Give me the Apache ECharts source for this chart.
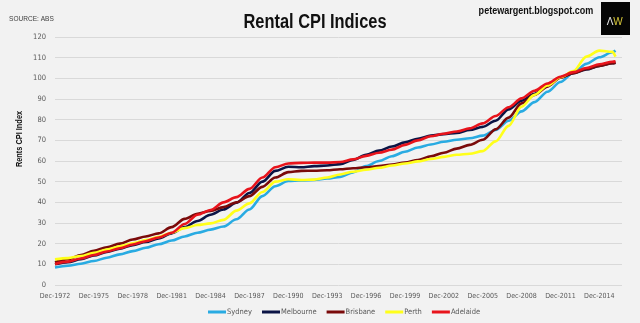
<!DOCTYPE html>
<html>
<head>
<meta charset="utf-8">
<script src="https://cdn.jsdelivr.net/npm/echarts@6/dist/echarts.min.js"></script>
<style>
html,body{margin:0;padding:0;background:#f2f2f2;}
#chart{width:640px;height:323px;}
</style>
</head>
<body>
<div id="chart"></div>
<script>
const periods = ["Dec-1972","Dec-1973","Dec-1974","Dec-1975","Dec-1976","Dec-1977","Dec-1978","Dec-1979","Dec-1980","Dec-1981",
  "Dec-1982","Dec-1983","Dec-1984","Dec-1985","Dec-1986","Dec-1987","Dec-1988","Dec-1989","Dec-1990","Dec-1991",
  "Dec-1992","Dec-1993","Dec-1994","Dec-1995","Dec-1996","Dec-1997","Dec-1998","Dec-1999","Dec-2000","Dec-2001",
  "Dec-2002","Dec-2003","Dec-2004","Dec-2005","Dec-2006","Dec-2007","Dec-2008","Dec-2009","Dec-2010","Dec-2011",
  "Dec-2012","Dec-2013","Dec-2014","Dec-2015","Mar-2016"];

const sydney = [8.5,9.3,10.3,11.6,13.2,14.8,16.4,18.0,19.7,21.5,
  23.5,25.3,26.8,28.3,31.8,36.5,43.0,47.8,50.3,50.6,
  50.8,51.5,52.3,54.5,57.5,60.0,62.3,64.5,66.5,68.0,
  69.3,70.3,71.0,72.3,75.0,79.5,84.0,88.5,93.5,98.2,
  102.7,107.0,110.2,112.6,113.4];
const melbourne = [10.0,11.0,12.5,14.3,16.0,17.6,19.3,20.8,22.5,25.0,
  28.0,31.0,34.0,36.5,39.8,44.5,50.0,55.2,57.2,57.0,
  57.5,57.8,58.5,60.5,63.0,65.0,67.0,69.0,70.8,72.3,
  73.0,73.6,75.0,76.5,79.5,85.0,89.2,92.5,96.5,100.5,
  102.5,104.3,106.0,107.3,107.6];
const brisbane = [11.0,12.5,14.5,16.5,18.3,20.0,22.0,23.5,25.0,28.0,
  32.0,34.5,35.8,37.7,40.0,43.0,47.5,52.0,54.6,55.2,
  55.3,55.5,56.0,56.5,57.0,57.5,58.3,59.3,60.5,62.3,
  64.0,66.0,67.8,70.3,75.3,81.0,87.9,92.0,96.0,100.3,
  102.5,104.5,106.0,107.3,107.6];
const perth = [12.4,13.0,14.0,15.6,17.2,18.7,20.2,21.7,23.3,25.3,
  27.5,29.0,29.8,31.5,36.0,39.5,45.0,50.0,51.2,50.8,
  51.0,52.0,53.5,54.8,55.8,56.7,57.8,58.8,59.8,61.0,
  62.0,63.0,63.5,64.8,69.5,77.0,86.3,92.0,96.5,100.5,
  103.5,110.5,113.4,112.8,110.5];
const adelaide = [10.2,11.3,12.8,14.5,16.2,17.8,19.6,21.2,23.0,25.3,
  29.5,34.0,36.3,40.0,42.5,46.5,52.0,57.0,58.8,59.1,
  59.2,59.2,59.5,60.8,62.5,64.0,65.5,67.8,70.0,72.0,
  73.2,74.3,75.8,78.2,81.8,86.0,90.3,94.0,97.5,100.8,
  103.0,105.0,106.8,108.0,108.2];

const seriesNames = ["Sydney","Melbourne","Brisbane","Perth","Adelaide"];
const seriesColors = ["#29abe2","#0b1445","#7a0a0a","#ffff1a","#e8141c"];
const xTickLabels = ["Dec-1972","Dec-1975","Dec-1978","Dec-1981","Dec-1984","Dec-1987","Dec-1990","Dec-1993",
  "Dec-1996","Dec-1999","Dec-2002","Dec-2005","Dec-2008","Dec-2011","Dec-2014"];
const yTicks = [0,10,20,30,40,50,60,70,80,90,100,110,120];

const monthIdx = {Mar:3,Jun:6,Sep:9,Dec:12};
function quarterIndex(p){
  const [m,y] = p.split("-");
  return (parseInt(y,10)-1972)*4 + (monthIdx[m]-12)/3;
}
const xs = periods.map(quarterIndex);
const allValues = [sydney,melbourne,brisbane,perth,adelaide];

const COND = "'DejaVu Sans Condensed','Liberation Sans Narrow',sans-serif";
const ARIAL = "'Liberation Sans',Arial,sans-serif";
const NARROW = 0.82;

const chart = echarts.init(document.getElementById('chart'), null, {renderer:'canvas'});
chart.setOption({
  backgroundColor:'#f2f2f2',
  animation:false,
  grid:{left:55,right:18,top:37,bottom:38},
  xAxis:{type:'value',min:0,max:175,interval:12,
    axisLine:{show:false},axisTick:{show:false},splitLine:{show:false},
    axisLabel:{showMaxLabel:false,margin:8,fontSize:7,color:'#595959',fontFamily:COND,
      formatter:v=>{const i=v/12;return Number.isInteger(i)&&xTickLabels[i]?xTickLabels[i]:'';}}},
  yAxis:{type:'value',min:yTicks[0],max:yTicks[yTicks.length-1],interval:10,
    axisLine:{show:false},axisTick:{show:false},
    splitLine:{lineStyle:{color:'#d9d9d9',width:1}},
    axisLabel:{margin:9,fontSize:7.5,color:'#595959',fontFamily:COND}},
  legend:{left:203,top:303,itemWidth:18,itemHeight:3,itemGap:10,icon:'rect',
    textStyle:{fontSize:7.5,color:'#595959',fontFamily:COND,padding:[0,0,0,-4]},
    data:seriesNames},
  graphic:[
    {type:'text',x:9,y:19,scaleX:NARROW,style:{text:'SOURCE: ABS',font:'8px '+ARIAL,fill:'#404040',verticalAlign:'middle'}},
    {type:'text',x:315,y:22,scaleX:NARROW,style:{text:'Rental CPI Indices',font:'bold 20px '+ARIAL,fill:'#111',align:'center',verticalAlign:'middle'}},
    {type:'text',x:536,y:11,scaleX:NARROW,style:{text:'petewargent.blogspot.com',font:'bold 11px '+ARIAL,fill:'#111',align:'center',verticalAlign:'middle'}},
    {type:'rect',shape:{x:601,y:2,width:29,height:33},style:{fill:'#050505'}},
    {type:'text',x:610,y:22,style:{text:'Λ',font:'10px '+ARIAL,fill:'#e8e8e8',align:'center',verticalAlign:'middle'}},
    {type:'text',x:618,y:22,style:{text:'W',font:'10px '+ARIAL,fill:'#d8c83a',align:'center',verticalAlign:'middle'}},
    {type:'text',x:20,y:139,rotation:Math.PI/2,scaleX:NARROW,style:{text:'Rents CPI Index',font:'bold 9px '+ARIAL,fill:'#111',align:'center',verticalAlign:'middle'}}
  ],
  series:seriesNames.map((n,k)=>({
    name:n,type:'line',showSymbol:false,smooth:0.3,smoothMonotone:'x',
    color:seriesColors[k],
    lineStyle:{width:2.6,color:seriesColors[k]},
    data:xs.map((x,i)=>[x,allValues[k][i]])
  }))
});
</script>
</body>
</html>
